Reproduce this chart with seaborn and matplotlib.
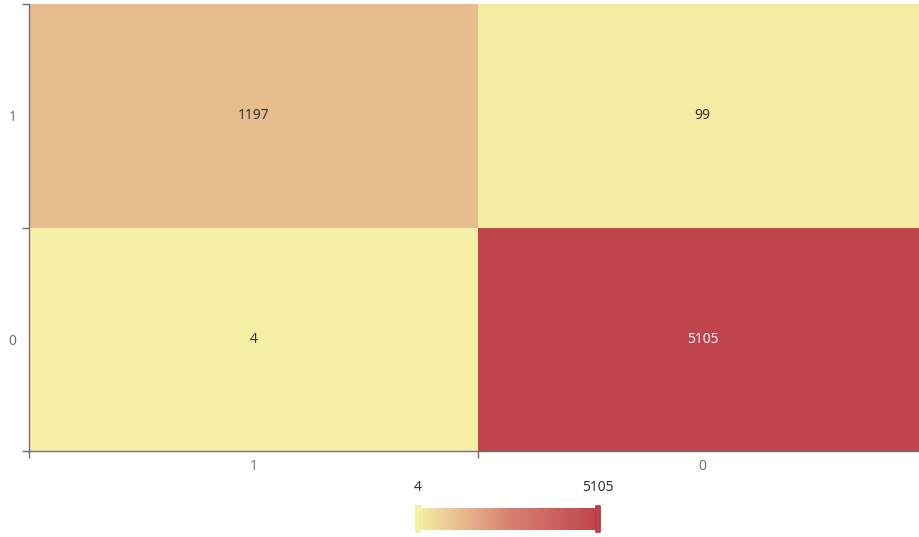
import numpy as np
import pandas as pd
import matplotlib
matplotlib.use("Agg")
import matplotlib.pyplot as plt
import seaborn as sns
from matplotlib.colors import LinearSegmentedColormap
from matplotlib.patches import FancyBboxPatch

# 데이터
x_labels = ["1", "0"]
y_labels = ["1", "0"]          # 위에서 아래로
row_1 = [1197, 99]
row_0 = [4, 5105]
colors = ["#f6efa6", "#d88273", "#bf444c"]

df = pd.DataFrame([row_1, row_0], index=y_labels, columns=x_labels)
vmin, vmax = df.values.min(), df.values.max()
cmap = LinearSegmentedColormap.from_list("ec", colors)

sns.set_style("white")
plt.rcParams["font.family"] = ["Noto Sans", "DejaVu Sans"]

fig = plt.figure(figsize=(9.19, 5.37), dpi=100)
ax = fig.add_axes([29 / 919, 1 - 451 / 537, 898 / 919, (451 - 4) / 537])
cax = fig.add_axes([418 / 919, 1 - 530 / 537, 180 / 919, 22 / 537])

sns.heatmap(df, ax=ax, cmap=cmap, vmin=vmin, vmax=vmax, annot=True, fmt="d",
            cbar=True, cbar_ax=cax, cbar_kws={"orientation": "horizontal"},
            annot_kws={"fontsize": 10, "color": "#333333"})

# 진한 칸은 흰 글씨
for t in ax.texts:
    if int(t.get_text()) > vmax * 0.6:
        t.set_color("#f5f5f5")

# 눈금: 경계에 틱, 가운데에 라벨
ax.set_xticks([0, 1, 2])
ax.set_xticklabels([])
ax.set_yticks([0, 1, 2])
ax.set_yticklabels([])
ax.set_xticks([0.5, 1.5], minor=True)
ax.set_xticklabels(x_labels, minor=True)
ax.set_yticks([0.5, 1.5], minor=True)
ax.set_yticklabels(y_labels, minor=True, rotation=0)
ax.tick_params(which="major", length=5, width=1, color="#6E7079", direction="out",
               bottom=True, left=True)
ax.tick_params(which="minor", length=0, labelsize=10, labelcolor="#6E7079", pad=9)
ax.tick_params(axis="x", which="minor", pad=6)
ax.set_xlabel("")
ax.set_ylabel("")
for side in ["left", "bottom"]:
    ax.spines[side].set_visible(True)
    ax.spines[side].set_color("#6E7079")
    ax.spines[side].set_linewidth(1)
for side in ["top", "right"]:
    ax.spines[side].set_visible(False)

# 컬러바
cax.set_xticks([])
cax.set_yticks([])
for s in cax.spines.values():
    s.set_visible(False)
for xpos, col, edge in [(0, colors[0], "#f3eaa0"), (1, colors[-1], "#b63c44")]:
    cax.add_patch(FancyBboxPatch((xpos - 0.012, -0.1), 0.024, 1.2,
                                 boxstyle="round,pad=0,rounding_size=0.01",
                                 transform=cax.transAxes, clip_on=False,
                                 facecolor=col, edgecolor=edge, lw=1, zorder=5))
cax.text(0, 1.6, str(vmin), transform=cax.transAxes, ha="center", va="bottom",
         fontsize=10, color="#333333")
cax.text(1, 1.6, str(vmax), transform=cax.transAxes, ha="center", va="bottom",
         fontsize=10, color="#333333")

fig.savefig("out.png", dpi=100)
